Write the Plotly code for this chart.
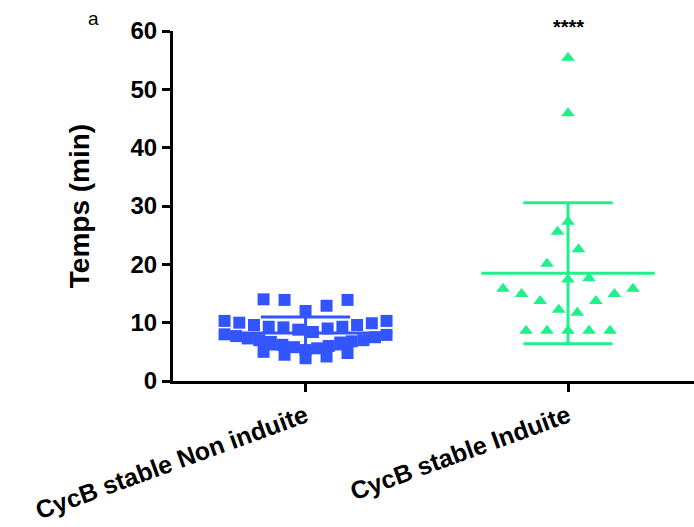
import numpy as np
import plotly.graph_objects as go

categories = ["CycB stable Non induite", "CycB stable Induite"]
non_induite = [12.0, 12.9, 13.9, 13.9, 14.0,
               10.3, 10.3, 10.0, 9.9, 9.6, 9.6, 9.3, 9.3, 9.2, 9.0, 8.8,
               8.4, 8.0, 7.9, 7.7, 7.5, 7.3, 7.0, 7.0, 6.8, 6.7, 6.6,
               6.2, 6.0, 5.8, 5.6, 5.3, 5.0, 4.8, 4.5, 4.2, 3.9]
induite = [55.4, 45.9, 27.3, 25.6, 22.6, 20.1, 17.6, 17.4,
           15.8, 15.8, 14.9, 14.9, 13.7, 13.7, 12.2, 11.7,
           8.6, 8.6, 8.6, 8.6, 8.6]
y_ticks = [0, 10, 20, 30, 40, 50, 60]
significance = "****"

BLUE = "#3355ff"
GREEN = "#1ff08a"
PX_PER_X = 262.5  # pixels per category unit
FONT = "Liberation Sans, Arial, sans-serif"


def swarm_offsets(vals, bin_w, origin, spacing, max_w):
    vals = np.asarray(vals, dtype=float)
    bins = np.floor((vals - origin) / bin_w).astype(int)
    off = np.zeros(len(vals))
    for b in np.unique(bins):
        idx = np.where(bins == b)[0]
        idx = idx[np.argsort(vals[idx], kind="stable")]
        n = len(idx)
        s = spacing if n < 2 else min(spacing, max_w / (n - 1))
        slots = []
        if n % 2 == 1:
            slots.append(0.0)
            k = 1
            while len(slots) < n:
                slots.append(k)
                if len(slots) < n:
                    slots.append(-k)
                k += 1
        else:
            k = 0.5
            while len(slots) < n:
                slots.append(k)
                slots.append(-k)
                k += 1
        for i, j in enumerate(idx):
            off[j] = slots[i] * s / PX_PER_X
    return off


fig = go.Figure()

groups = [
    (0, non_induite, BLUE, "square", 12, 3.0, 2.3, 162),
    (1, induite, GREEN, "triangle-up", 12, 5.3, 0.4, 130),
]

for pos, vals, col, sym, msize, bw, org, maxw in groups:
    off = swarm_offsets(vals, bw, org, 21, maxw)
    fig.add_trace(go.Scatter(
        x=pos + off, y=vals, mode="markers",
        marker=dict(symbol=sym, size=msize, color=col, line=dict(width=0)),
        cliponaxis=False, showlegend=False, hoverinfo="y"))
    m = float(np.mean(vals))
    sd = float(np.std(vals, ddof=1))
    lw = 3
    fig.add_trace(go.Scatter(x=[pos - 0.33, pos + 0.33], y=[m, m], mode="lines",
                             line=dict(color=col, width=lw), showlegend=False, hoverinfo="skip"))
    fig.add_trace(go.Scatter(x=[pos, pos], y=[m - sd, m + sd], mode="lines",
                             line=dict(color=col, width=lw), showlegend=False, hoverinfo="skip"))
    for yv in (m - sd, m + sd):
        fig.add_trace(go.Scatter(x=[pos - 0.17, pos + 0.17], y=[yv, yv], mode="lines",
                                 line=dict(color=col, width=lw), showlegend=False, hoverinfo="skip"))

fig.update_layout(
    width=694, height=527,
    margin=dict(l=173, r=0, t=31, b=146, autoexpand=False),
    paper_bgcolor="white", plot_bgcolor="white",
    font=dict(family=FONT, color="black"),
    xaxis=dict(
        range=[-0.505, 1.48], tickvals=[0, 1], ticktext=categories,
        tickangle=-20, showgrid=False, zeroline=False, automargin=False,
        showline=True, linecolor="black", linewidth=3,
        ticks="outside", ticklen=8, tickwidth=3, tickcolor="black",
        tickfont=dict(size=25, family=FONT, weight="bold"),
    ),
    yaxis=dict(
        range=[0, 60], tickvals=y_ticks, showgrid=False, zeroline=False, automargin=False,
        showline=True, linecolor="black", linewidth=3,
        ticks="outside", ticklen=8, tickwidth=3, tickcolor="black",
        tickfont=dict(size=24, family=FONT, weight="bold"),
        title=dict(text="Temps (min)", standoff=33,
                   font=dict(size=28, family=FONT, weight="bold")),
    ),
    annotations=[
        dict(text="a", xref="paper", yref="paper", x=-0.153, y=1.0, xanchor="center",
             yanchor="bottom", showarrow=False,
             font=dict(size=19, family=FONT)),
        dict(text=significance, xref="x", yref="paper", x=1, y=1.012, xanchor="center",
             yanchor="middle", showarrow=False,
             font=dict(size=20, family=FONT, weight="bold")),
    ],
)

fig.write_html("out.html", config={"displayModeBar": False},
               post_script="document.body.style.margin='0';document.body.style.overflow='hidden';")
